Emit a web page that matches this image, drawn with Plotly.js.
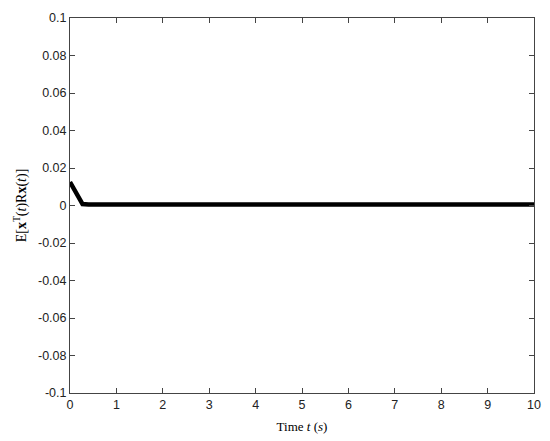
<!DOCTYPE html>
<html><head><meta charset="utf-8">
<script src="https://cdn.plot.ly/plotly-3.0.1.min.js"></script>
<style>html,body{margin:0;padding:0;background:#fff;}#chart{width:550px;height:441px;}</style>
</head><body><div id="chart"></div>
<script>
const timeS = [0, 0.1, 0.2, 0.27, 0.4, 1, 2, 3, 4, 5, 6, 7, 8, 9, 10];
const energy = [0.0125, 0.0085, 0.0042, 0.0008, 0.0006, 0.0006, 0.0006, 0.0006, 0.0006, 0.0006, 0.0006, 0.0006, 0.0006, 0.0006, 0.0006];
const xTicks = [0,1,2,3,4,5,6,7,8,9,10];
const yTicks = [-0.1,-0.08,-0.06,-0.04,-0.02,0,0.02,0.04,0.06,0.08,0.1];
const yTickText = ['-0.1','-0.08','-0.06','-0.04','-0.02','0','0.02','0.04','0.06','0.08','0.1'];

const trace = {x: timeS, y: energy, type: 'scatter', mode: 'lines',
  line: {color: '#000', width: 4.5}, hoverinfo: 'skip'};

const axisCommon = {showgrid: false, zeroline: false, showline: true, mirror: 'ticks',
  linecolor: '#444', linewidth: 1, ticks: 'inside', ticklen: 5, tickcolor: '#444',
  tickfont: {family: 'Liberation Sans, Arial, sans-serif', size: 12.5, color: '#222'}};

const layout = {
  width: 550, height: 441,
  margin: {l: 70, r: 16, t: 18, b: 48},
  paper_bgcolor: '#fff', plot_bgcolor: '#fff',
  showlegend: false,
  xaxis: Object.assign({}, axisCommon, {range: [0, 10], tickvals: xTicks,
    title: {text: 'Time <i>t</i> (<i>s</i>)', standoff: 10,
      font: {family: 'Liberation Serif, Times New Roman, serif', size: 13, color: '#000'}}}),
  yaxis: Object.assign({}, axisCommon, {range: [-0.1, 0.1], tickvals: yTicks, ticktext: yTickText,
    title: {text: 'E[<b>x</b><sup>T</sup>(<i>t</i>)R<b>x</b>(<i>t</i>)]', standoff: 8,
      font: {family: 'Liberation Serif, Times New Roman, serif', size: 14, color: '#000'}}})
};
Plotly.newPlot('chart', [trace], layout, {displayModeBar: false, staticPlot: true});
</script></body></html>
